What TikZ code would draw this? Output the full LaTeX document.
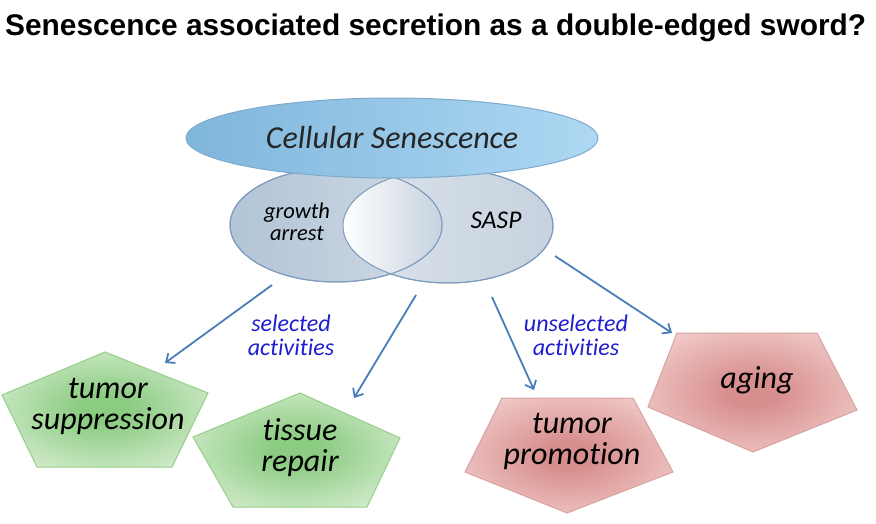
\documentclass[tikz,border=0pt]{standalone}
\usepackage{fontspec}
\setmainfont{Carlito}[Ligatures=NoCommon]
\newfontfamily\titlefont{Liberation Sans}
\usetikzlibrary{arrows.meta,shapes.geometric}
\definecolor{arrowblue}{HTML}{4A7EBB}
\definecolor{lblblue}{HTML}{1F1FD0}
\definecolor{topL}{HTML}{7FB6DC}
\definecolor{topR}{HTML}{AED8F3}
\definecolor{topE}{HTML}{7FAACB}
\definecolor{ellE}{HTML}{7E9BBD}
\definecolor{gaL}{HTML}{B2C4D7}
\definecolor{gaR}{HTML}{D0DAE5}
\definecolor{saL}{HTML}{DDE4EB}
\definecolor{saR}{HTML}{C6D2DE}
\definecolor{grE}{HTML}{93CF87}
\definecolor{grO}{HTML}{E2F2DD}
\definecolor{grI}{HTML}{8CCC82}
\definecolor{rdE}{HTML}{D9A2A2}
\definecolor{rdO}{HTML}{F6D8D6}
\definecolor{rdI}{HTML}{D78F8E}
\pgfdeclareradialshading{greenglow}{\pgfpoint{0bp}{0bp}}{color(0bp)=(grI); color(6bp)=(grI); color(36bp)=(grO); color(50bp)=(grO)}
\pgfdeclareradialshading{redglow}{\pgfpoint{0bp}{0bp}}{color(0bp)=(rdI); color(6bp)=(rdI); color(36bp)=(rdO); color(50bp)=(rdO)}
\tikzset{
  arr/.style={draw=arrowblue, line width=1.8pt, -{Straight Barb[length=7pt,width=12pt]}},
  lbl/.style={text=lblblue, font=\fontsize{24}{24}\selectfont\itshape, align=center, inner sep=0pt},
  ptext/.style={font=\fontsize{32}{31}\selectfont\itshape, align=center, inner sep=0pt},
  etext/.style={font=\fontsize{22.5}{22}\selectfont\itshape, align=center, inner sep=0pt},
  greenpent/.style={draw=grE, line width=1pt, shading=greenglow},
  redpent/.style={draw=rdE, line width=1pt, shading=redglow},
}
\begin{document}
\begin{tikzpicture}[x=1pt,y=-1pt]
\useasboundingbox (0,0) rectangle (876,523);
\fill[white] (0,0) rectangle (876,523);
\node[anchor=base west, inner sep=0pt] (title) at (5,35)
  {\resizebox{861pt}{!}{\titlefont\bfseries Senescence associated secretion as a double-edged sword?}};

% lower ellipses
\path[draw=ellE, line width=1pt, left color=saL, right color=saR]
  (448,226) ellipse [x radius=105pt, y radius=57pt];
\path[draw=ellE, line width=1pt, left color=gaL, right color=gaR]
  (336,225) ellipse [x radius=106pt, y radius=57pt];
\begin{scope}
  \clip (336,225) ellipse [x radius=106pt, y radius=57pt];
  \clip (448,226) ellipse [x radius=105pt, y radius=57pt];
  \path[left color=white, right color=saR] (343,160) rectangle (442,290);
\end{scope}
\draw[ellE, line width=1pt] (336,225) ellipse [x radius=106pt, y radius=57pt];
\draw[ellE, line width=1pt] (448,226) ellipse [x radius=105pt, y radius=57pt];
\node[etext] (ga) at (297,222) {growth\\arrest};
\node[etext, font=\fontsize{25.5}{26}\selectfont\itshape] (sasp) at (496,220) {SASP};

% top ellipse
\node[ellipse, draw=topE, line width=1pt, left color=topL, right color=topR,
      minimum width=412pt, minimum height=80pt, inner sep=0pt,
      font=\fontsize{32}{34}\selectfont\itshape, text=black!85] (cs) at (392,138) {Cellular Senescence};

% pentagons
\path[greenpent] (105,352) -- (208,393) -- (172,467) -- (37,467) -- (2,395) -- cycle;
\path[greenpent] (300,393) -- (400,438) -- (367,507) -- (233,507) -- (193,437) -- cycle;
\path[redpent] (502,398) -- (633,398) -- (673,472) -- (567,513) -- (465,472) -- cycle;
\path[redpent] (677,333) -- (817,333) -- (857,410) -- (753,452) -- (648,407) -- cycle;

\node[ptext] (ts) at (108,406) {tumor\\suppression};
\node[ptext] (tr) at (300,448) {tissue\\repair};
\node[ptext] (tp) at (572,441) {tumor\\promotion};
\node[ptext] (ag) at (757,380) {aging};

% arrows
\coordinate (s1) at (272,285); \coordinate (e1) at (165,363);
\coordinate (s2) at (416,295); \coordinate (e2) at (354,398);
\coordinate (s3) at (492,297); \coordinate (e3) at (534,390);
\coordinate (s4) at (555,256); \coordinate (e4) at (672,333);
\draw[arr] (s1) -- (e1);
\draw[arr] (s2) -- (e2);
\draw[arr] (s3) -- (e3);
\draw[arr] (s4) -- (e4);

\node[lbl] (sel) at (291,335) {selected\\activities};
\node[lbl] (unsel) at (576,335) {unselected\\activities};
\end{tikzpicture}
\end{document}
